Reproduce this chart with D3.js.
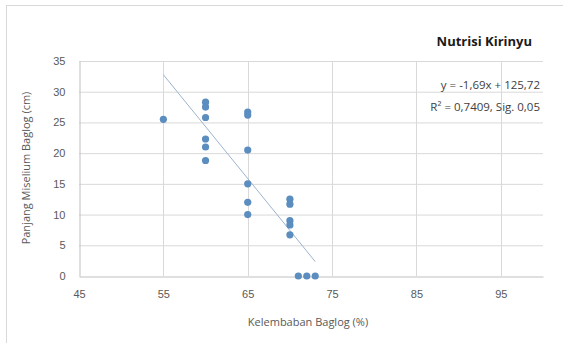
<!DOCTYPE html>
<html>
<head>
<meta charset="utf-8">
<script src="https://cdn.jsdelivr.net/npm/d3@7"></script>
<style>
  body { margin: 0; background: #fff; }
  svg { font-family: "Open Sans", "Liberation Sans", sans-serif; }
</style>
</head>
<body>
<svg width="563" height="343"></svg>
<script>
// kelembaban (%) vs panjang miselium (cm)
var kelembaban = [55, 60, 60, 60, 60, 60, 60, 65, 65, 65, 65, 65, 65, 70, 70, 70, 70, 70, 71, 72, 73]
var panjang = [25.5, 28.3, 27.5, 25.8, 22.3, 21, 18.8, 26.7, 26.2, 20.5, 15, 12, 10, 12.5, 11.7, 9, 8.3, 6.7, 0, 0, 0]
var xTicks = [45, 55, 65, 75, 85, 95]
var yTicks = [0, 5, 10, 15, 20, 25, 30, 35]
var slope = -1.69, intercept = 125.72
var trendX = [55, 73]

var svg = d3.select("svg")

// chart border
svg.append("rect")
    .attr("x", 6.5).attr("y", 5.5)
    .attr("width", 570).attr("height", 350)
    .attr("fill", "none").attr("stroke", "#d9d9d9")

var xScale = d3.scaleLinear().domain([45, 100]).range([79, 543])
var yScale = d3.scaleLinear().domain([0, 35]).range([276, 61])

// gridlines
svg.append("g").selectAll("line")
    .data(yTicks.slice(1))
    .enter().append("line")
    .attr("x1", xScale(45)).attr("x2", xScale(100))
    .attr("y1", d => yScale(d) + 0.5).attr("y2", d => yScale(d) + 0.5)
    .attr("stroke", "#d9d9d9")
svg.append("g").selectAll("line")
    .data(xTicks.slice(1))
    .enter().append("line")
    .attr("x1", d => Math.round(xScale(d)) + 0.5).attr("x2", d => Math.round(xScale(d)) + 0.5)
    .attr("y1", yScale(0)).attr("y2", yScale(35))
    .attr("stroke", "#d9d9d9")

// axes
var xAxis = d3.axisBottom(xScale).tickValues(xTicks).tickSize(0).tickPadding(14)
svg.append("g").attr("transform", "translate(0," + (yScale(0) + 0.5) + ")")
    .call(xAxis)
    .call(g => g.select(".domain").attr("stroke", "#bfbfbf"))
    .selectAll("text").attr("fill", "#595959").attr("font-size", 11)

var yAxis = d3.axisLeft(yScale).tickValues(yTicks).tickSize(0).tickPadding(14)
svg.append("g").attr("transform", "translate(" + (xScale(45) + 0.5) + ",0)")
    .call(yAxis)
    .call(g => g.select(".domain").attr("stroke", "#bfbfbf"))
    .selectAll("text").attr("fill", "#595959").attr("font-size", 11)

// trendline
svg.append("line")
    .attr("x1", xScale(trendX[0])).attr("y1", yScale(slope * trendX[0] + intercept))
    .attr("x2", xScale(trendX[1])).attr("y2", yScale(slope * trendX[1] + intercept))
    .attr("stroke", "#9db3cc").attr("stroke-width", 1)

// points
svg.append("g").selectAll("circle")
    .data(kelembaban)
    .enter().append("circle")
    .attr("cx", (d, i) => xScale(d))
    .attr("cy", (d, i) => yScale(panjang[i]))
    .attr("r", 3.6)
    .attr("fill", "#5b8dbf")

// titles
svg.append("text")
    .attr("x", 532).attr("y", 46)
    .attr("text-anchor", "end")
    .attr("font-size", 13).attr("font-weight", "bold")
    .attr("fill", "#1a1a1a")
    .text("Nutrisi Kirinyu")

svg.append("text")
    .attr("x", 540).attr("y", 89)
    .attr("text-anchor", "end")
    .attr("font-size", 11.5).attr("fill", "#404040")
    .text("y = -1,69x + 125,72")
svg.append("text")
    .attr("x", 540).attr("y", 111)
    .attr("text-anchor", "end")
    .attr("font-size", 11.5).attr("fill", "#404040")
    .text("R² = 0,7409, Sig. 0,05")

svg.append("text")
    .attr("x", 308).attr("y", 326)
    .attr("text-anchor", "middle")
    .attr("font-size", 11).attr("fill", "#595959")
    .text("Kelembaban Baglog (%)")

svg.append("text")
    .attr("transform", "translate(30,168) rotate(-90)")
    .attr("text-anchor", "middle")
    .attr("font-size", 11).attr("fill", "#595959")
    .text("Panjang Miselium Baglog (cm)")
</script>
</body>
</html>
